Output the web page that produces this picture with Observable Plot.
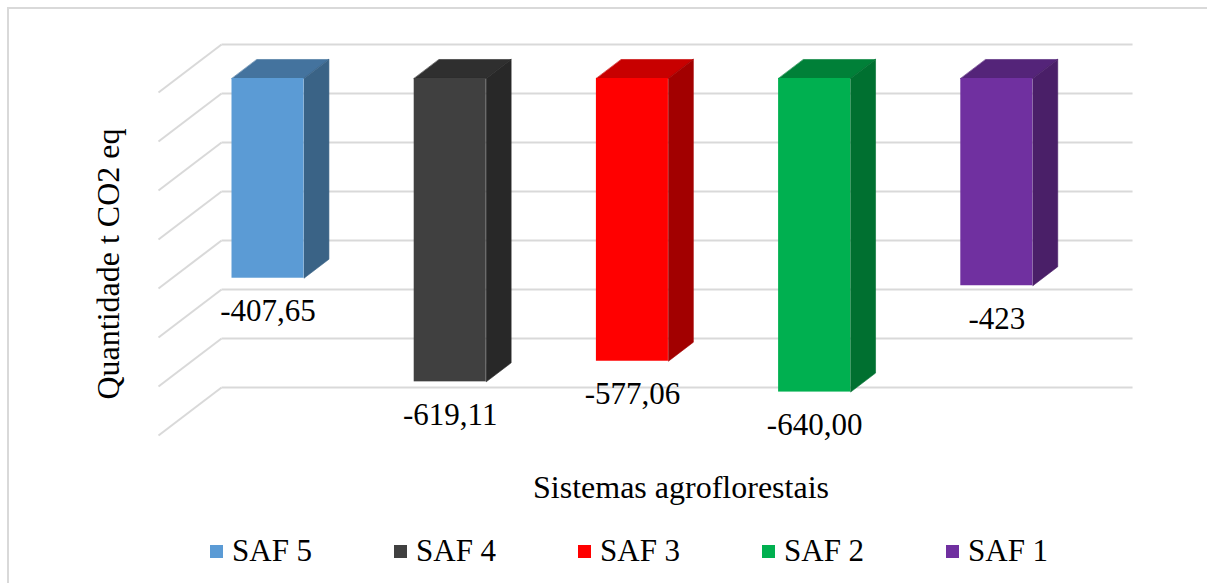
<!DOCTYPE html>
<html>
<head>
<meta charset="utf-8">
<script src="https://cdn.jsdelivr.net/npm/d3@7"></script>
<script src="https://cdn.jsdelivr.net/npm/@observablehq/plot@0.6"></script>
<style>
  html, body { margin: 0; padding: 0; background: #fff; }
  #wrap { position: relative; width: 1207px; height: 583px; overflow: hidden; font-family: "Liberation Serif", "Times New Roman", serif; }
  #frame { position: absolute; left: 7px; top: 7px; width: 1300px; height: 700px; border-top: 2px solid #D9D9D9; border-left: 2px solid #D9D9D9; }
  #chart { position: absolute; left: 0; top: 0; }
  #legend { position: absolute; left: 210px; top: 533px; display: flex; gap: 0; }
  .item { display: flex; align-items: center; width: 184px; font-size: 31px; color: #000; }
  .swatch { width: 13px; height: 13px; margin-right: 9px; }
</style>
</head>
<body>
<div id="wrap">
  <div id="frame"></div>
  <div id="chart"></div>
  <div id="legend"></div>
</div>
<script>
// Agroforestry systems and their CO2 balance (t CO2 eq)
const categories = ["SAF 5", "SAF 4", "SAF 3", "SAF 2", "SAF 1"];
const values = [-407.65, -619.11, -577.06, -640.00, -423];
const decimals = [2, 2, 2, 2, 0];
const yTicks = [0, -100, -200, -300, -400, -500, -600, -700];

// Face colours of each column: front, top, right side
const frontColors = ["#5B9BD5", "#404040", "#FF0000", "#00B050", "#7030A0"];
const topColors   = ["#44739E", "#2F2F2F", "#C80000", "#008038", "#542479"];
const sideColors  = ["#3A6386", "#282828", "#A20000", "#007030", "#4A1F68"];

// Oblique 3D projection: a point (band b, value v, depth z in [0,1])
// moves right by DEPTH_X bands and up by DEPTH_Y value units at full depth.
const DEPTH_X = 0.346;
const DEPTH_Y = 98;
const Z_FRONT = 0.292;   // column front face depth
const Z_BACK = 0.6875;   // column back face depth
const HALF_W = 0.1976;   // half column width, in bands
const px = (b, z) => b + z * DEPTH_X;
const py = (v, z) => v + z * DEPTH_Y;

const bars = categories.map((name, i) => ({
  name, i, b: i + 0.5, v: values[i],
  label: values[i].toFixed(decimals[i]).replace(".", ","),
  front: frontColors[i], top: topColors[i], side: sideColors[i]
}));

// Top and side faces as closed polygons
const faces = [];
for (const d of bars) {
  const l = d.b - HALF_W, r = d.b + HALF_W;
  const top = [[l, 0, Z_FRONT], [r, 0, Z_FRONT], [r, 0, Z_BACK], [l, 0, Z_BACK]];
  const side = [[r, 0, Z_FRONT], [r, d.v, Z_FRONT], [r, d.v, Z_BACK], [r, 0, Z_BACK]];
  top.forEach(([b, v, z]) => faces.push({id: d.name + "-top", color: d.top, x: px(b, z), y: py(v, z)}));
  side.forEach(([b, v, z]) => faces.push({id: d.name + "-side", color: d.side, x: px(b, z), y: py(v, z)}));
}

const font = '"Liberation Serif", "Times New Roman", serif';
const nBands = categories.length;

const chart = Plot.plot({
  width: 1207,
  height: 520,
  marginLeft: 158,
  marginRight: 138,
  marginTop: 92,
  marginBottom: 85,
  style: {background: "transparent", fontFamily: font},
  x: {domain: [0, nBands], axis: null},
  y: {domain: [-700, 0], axis: null},
  marks: [
    // back wall gridlines
    Plot.link(yTicks, {x1: px(0, 1), x2: px(nBands, 1), y1: t => py(t, 1), y2: t => py(t, 1), stroke: "#D9D9D9", strokeWidth: 2}),
    // side wall gridlines
    Plot.link(yTicks, {x1: px(0, 0), x2: px(0, 1), y1: t => py(t, 0), y2: t => py(t, 1), stroke: "#D9D9D9", strokeWidth: 2}),
    // top and side faces
    Plot.line(faces, {x: "x", y: "y", z: "id", fill: "color", stroke: "color", strokeWidth: 0.6, curve: "linear-closed"}),
    // front faces
    Plot.rect(bars, {
      x1: d => px(d.b - HALF_W, Z_FRONT), x2: d => px(d.b + HALF_W, Z_FRONT),
      y1: py(0, Z_FRONT), y2: d => py(d.v, Z_FRONT), fill: "front"
    }),
    // value labels
    Plot.text(bars, {
      x: d => px(d.b, Z_FRONT), y: d => py(d.v, Z_FRONT), text: "label",
      dy: 33, fontSize: 31, fontFamily: font, fill: "#000", textAnchor: "middle"
    }),
    // axis titles
    Plot.text(["Quantidade t CO2 eq"], {frameAnchor: "left", rotate: -90, dx: -50, textAnchor: "middle", fontSize: 32, fontFamily: font, fill: "#000"}),
    Plot.text(["Sistemas agroflorestais"], {frameAnchor: "bottom", dx: 67, dy: 62, textAnchor: "middle", fontSize: 32, fontFamily: font, fill: "#000"})
  ]
});
document.getElementById("chart").appendChild(chart);

// Legend
const legend = d3.select("#legend");
bars.forEach(d => {
  const it = legend.append("div").attr("class", "item");
  it.append("div").attr("class", "swatch").style("background", d.front);
  it.append("span").text(d.name);
});
</script>
</body>
</html>
